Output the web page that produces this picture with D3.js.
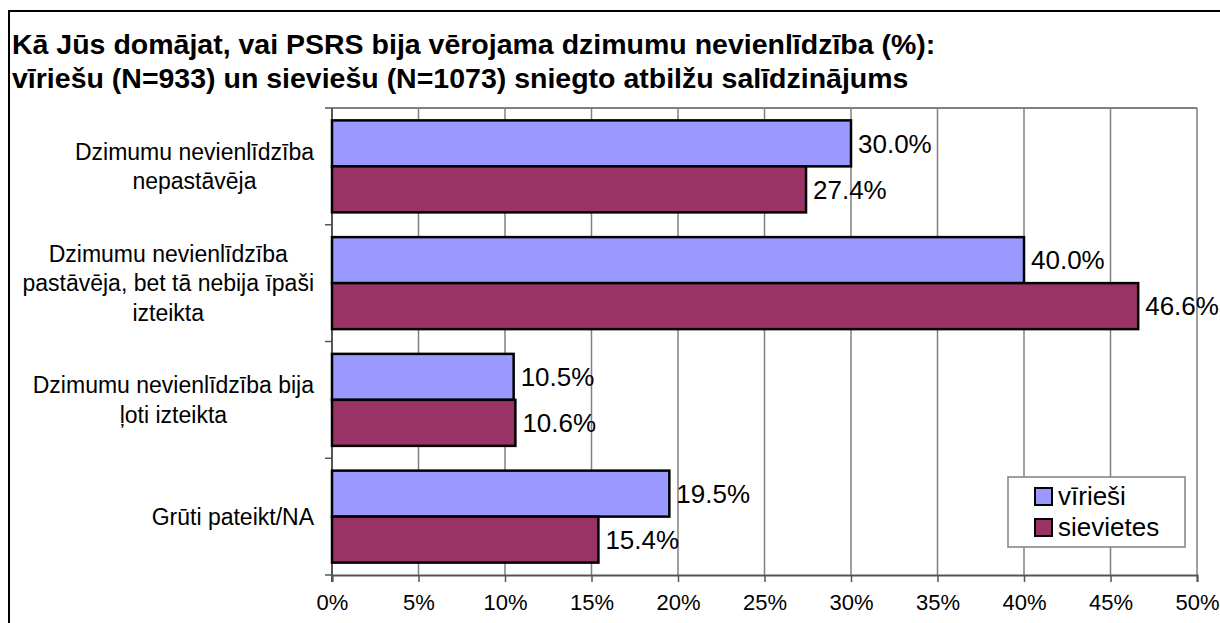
<!DOCTYPE html>
<html lang="lv">
<head>
<meta charset="UTF-8">
<title>Dzimumu nevienlīdzība PSRS</title>
<script src="https://d3js.org/d3.v7.min.js"></script>
<style>
  body { margin: 0; background: #fff; }
  svg { font-family: "Liberation Sans", Arial, sans-serif; }
</style>
</head>
<body>
<svg id="chart" width="1220" height="623"></svg>
<script>
// data
const categories = [
  ["Dzimumu nevienlīdzība", "nepastāvēja"],
  ["Dzimumu nevienlīdzība", "pastāvēja, bet tā nebija īpaši", "izteikta"],
  ["Dzimumu nevienlīdzība bija", "ļoti izteikta"],
  ["Grūti pateikt/NA"]
];
const seriesNames = ["vīrieši", "sievietes"];
const seriesColors = ["#9999ff", "#993366"];
const men = [30.0, 40.0, 10.5, 19.5];
const women = [27.4, 46.6, 10.6, 15.4];
const xTicks = [0, 5, 10, 15, 20, 25, 30, 35, 40, 45, 50];
const titleLines = [
  "Kā Jūs domājat, vai PSRS bija vērojama dzimumu nevienlīdzība (%):",
  "vīriešu (N=933) un sieviešu (N=1073) sniegto atbilžu salīdzinājums"
];

const svg = d3.select("#chart");
const plot = { left: 332, right: 1197, top: 108, bottom: 575 };

// outer frame of the chart (runs off the page on right/bottom)
svg.append("rect")
  .attr("x", 9).attr("y", 11)
  .attr("width", 1300).attr("height", 700)
  .attr("fill", "none").attr("stroke", "#000").attr("stroke-width", 2);

// title
svg.append("text")
  .attr("font-size", "28.5px").attr("font-weight", "bold")
  .selectAll("tspan").data(titleLines).join("tspan")
  .attr("x", 12)
  .attr("y", (d, i) => 54 + i * 34)
  .text(d => d);

const x = d3.scaleLinear().domain([0, 50]).range([plot.left, plot.right]);
const y = d3.scaleBand()
  .domain(d3.range(categories.length))
  .range([plot.top, plot.bottom])
  .paddingInner(0.212).paddingOuter(0.106);
const ySub = d3.scaleBand().domain([0, 1]).range([0, y.bandwidth()]);

// gridlines
svg.append("g")
  .selectAll("line").data(xTicks.slice(1)).join("line")
  .attr("x1", d => x(d)).attr("x2", d => x(d))
  .attr("y1", plot.top).attr("y2", plot.bottom)
  .attr("stroke", "#808080").attr("stroke-width", 1.5);

// plot border (top)
svg.append("line")
  .attr("x1", plot.left).attr("x2", plot.right)
  .attr("y1", plot.top).attr("y2", plot.top)
  .attr("stroke", "#808080").attr("stroke-width", 2);

// x axis
const xAxis = svg.append("g")
  .attr("transform", `translate(0,${plot.bottom})`)
  .call(d3.axisBottom(x).tickValues(xTicks).tickSize(7).tickPadding(12).tickFormat(d => d + "%"));
xAxis.select(".domain").attr("stroke", "#555").attr("stroke-width", 2);
xAxis.selectAll(".tick line").attr("stroke", "#555").attr("stroke-width", 1.5);
xAxis.selectAll(".tick text")
  .attr("font-size", "22px").attr("font-family", "Liberation Sans, Arial, sans-serif").attr("fill", "#000");

// left axis line + category separators
const step = y.step();
const bounds = d3.range(categories.length + 1).map(i => plot.top + i * step);
svg.append("line")
  .attr("x1", plot.left).attr("x2", plot.left)
  .attr("y1", plot.top).attr("y2", plot.bottom + 7)
  .attr("stroke", "#555").attr("stroke-width", 2);
svg.append("g")
  .selectAll("line").data(bounds).join("line")
  .attr("x1", plot.left - 7).attr("x2", plot.left)
  .attr("y1", d => d).attr("y2", d => d)
  .attr("stroke", "#555").attr("stroke-width", 1.5);

// bars
const rows = categories.map((c, i) => [men[i], women[i]]);
const groups = svg.append("g")
  .selectAll("g").data(rows).join("g")
  .attr("transform", (d, i) => `translate(0,${y(i)})`);

groups.selectAll("rect").data(d => d).join("rect")
  .attr("x", x(0))
  .attr("y", (d, j) => ySub(j))
  .attr("width", d => x(d) - x(0))
  .attr("height", ySub.bandwidth())
  .attr("fill", (d, j) => seriesColors[j])
  .attr("stroke", "#000").attr("stroke-width", 2.5);

groups.selectAll("text").data(d => d).join("text")
  .attr("x", d => x(d) + 7)
  .attr("y", (d, j) => ySub(j) + ySub.bandwidth() / 2)
  .attr("dy", "0.36em")
  .attr("font-size", "26px")
  .text(d => d.toFixed(1) + "%");

// category labels, lines centred in a right-aligned block
const labelRight = 314;
const lineH = 29.5;
categories.forEach((lines, i) => {
  const cy = y(i) + y.bandwidth() / 2;
  const g = svg.append("g");
  const t = g.selectAll("text").data(lines).join("text")
    .attr("font-size", "23px")
    .attr("text-anchor", "middle")
    .attr("y", (d, k) => cy + (k - (lines.length - 1) / 2) * lineH)
    .attr("dy", "0.36em")
    .text(d => d);
  const w = d3.max(t.nodes(), n => n.getComputedTextLength());
  t.attr("x", labelRight - w / 2);
});

// legend
const legend = svg.append("g").attr("transform", "translate(1008,477)");
legend.append("rect")
  .attr("width", 177).attr("height", 70)
  .attr("fill", "#fff").attr("stroke", "#808080").attr("stroke-width", 1.5);
const items = legend.selectAll("g.item").data(seriesNames).join("g")
  .attr("class", "item")
  .attr("transform", (d, i) => `translate(27,${19 + i * 31})`);
items.append("rect")
  .attr("x", 0).attr("y", -8)
  .attr("width", 17).attr("height", 17)
  .attr("fill", (d, i) => seriesColors[i])
  .attr("stroke", "#000").attr("stroke-width", 2);
items.append("text")
  .attr("x", 23).attr("dy", "0.36em")
  .attr("font-size", "26px")
  .text(d => d);
</script>
</body>
</html>
